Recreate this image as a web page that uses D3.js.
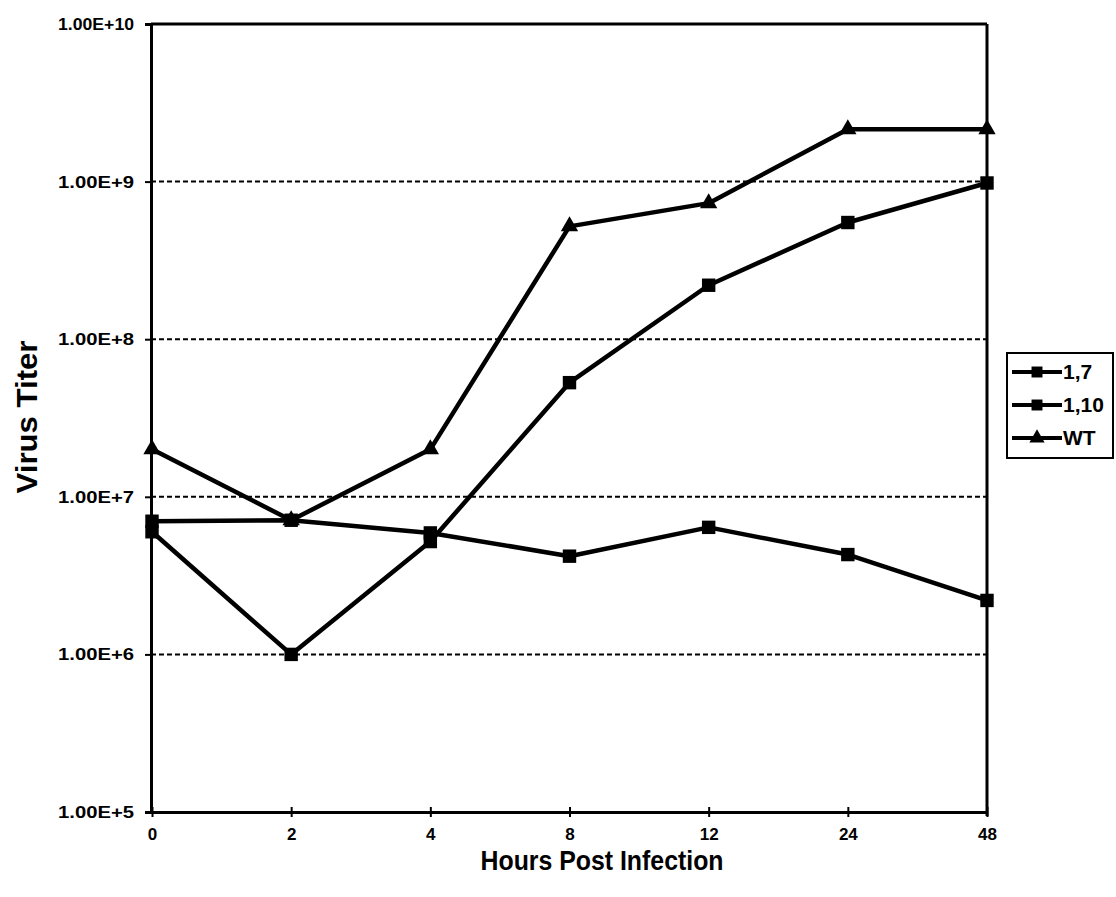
<!DOCTYPE html>
<html>
<head>
<meta charset="utf-8">
<script src="https://cdn.jsdelivr.net/npm/d3@7"></script>
<style>
  body { margin: 0; background: #fff; }
  svg text { font-family: "Liberation Sans", Arial, sans-serif; font-weight: bold; fill: #000; }
</style>
</head>
<body>
<script>
// data
var hours = ["0", "2", "4", "8", "12", "24", "48"];
var s17  = [6.0e6, 1.0e6, 5.2e6, 5.3e7, 2.2e8, 5.5e8, 9.8e8];
var s110 = [7.0e6, 7.1e6, 5.9e6, 4.2e6, 6.4e6, 4.3e6, 2.2e6];
var sWT  = [2.0e7, 7.1e6, 2.0e7, 5.2e8, 7.3e8, 2.15e9, 2.15e9];
var seriesNames = ["1,7", "1,10", "WT"];
var yTicks = [1e5, 1e6, 1e7, 1e8, 1e9, 1e10];

var W = 1116, H = 897;
var plotL = 151, plotR = 987, plotT = 24, plotB = 812;

var svg = d3.select("body").append("svg")
    .attr("width", W)
    .attr("height", H);

var x = d3.scalePoint().domain(hours).range([plotL + 1, plotR]);
var y = d3.scaleLog().domain([1e5, 1e10]).range([plotB, plotT]);

// dotted gridlines
svg.append("g").selectAll("line")
   .data(yTicks.slice(1, -1))
   .enter().append("line")
   .attr("x1", plotL).attr("x2", plotR)
   .attr("y1", function(d){ return y(d); })
   .attr("y2", function(d){ return y(d); })
   .attr("stroke", "#000")
   .attr("stroke-width", 2)
   .attr("stroke-dasharray", "5,3");

// frame top / right
svg.append("line").attr("x1", plotL).attr("x2", plotR).attr("y1", plotT).attr("y2", plotT)
   .attr("stroke", "#000").attr("stroke-width", 3);
svg.append("line").attr("x1", plotR).attr("x2", plotR).attr("y1", plotT).attr("y2", plotB + 4)
   .attr("stroke", "#000").attr("stroke-width", 3);

// y axis
var yAxis = svg.append("g")
    .attr("transform", "translate(" + plotL + ",0)")
    .call(d3.axisLeft(y).tickValues(yTicks)
        .tickFormat(function(d){ return d.toExponential(2).toUpperCase(); })
        .tickSize(6).tickPadding(11));
yAxis.attr("font-size", 17);
yAxis.select(".domain").attr("stroke-width", 3);
yAxis.selectAll(".tick line").attr("stroke-width", 2);
yAxis.selectAll(".tick text")
     .attr("textLength", 76).attr("lengthAdjust", "spacingAndGlyphs");

// x axis
var xAxis = svg.append("g")
    .attr("transform", "translate(0," + plotB + ")")
    .call(d3.axisBottom(x).tickSize(5).tickPadding(11).tickSizeOuter(0));
xAxis.attr("font-size", 17);
xAxis.select(".domain").attr("stroke-width", 3);
xAxis.selectAll(".tick line").attr("y1", -5).attr("stroke-width", 2);

// axis titles
svg.append("text")
   .attr("x", 602).attr("y", 870)
   .attr("text-anchor", "middle")
   .attr("textLength", 243).attr("lengthAdjust", "spacingAndGlyphs")
   .style("font-size", "28px")
   .text("Hours Post Infection");

svg.append("text")
   .attr("transform", "translate(37,417) rotate(-90)")
   .attr("text-anchor", "middle")
   .attr("textLength", 153).attr("lengthAdjust", "spacingAndGlyphs")
   .style("font-size", "30px")
   .text("Virus Titer");

// series
var series = [
  { name: seriesNames[0], values: s17, shape: "square" },
  { name: seriesNames[1], values: s110, shape: "square" },
  { name: seriesNames[2], values: sWT, shape: "triangle" }
];

var line = d3.line()
    .x(function(d, i){ return x(hours[i]); })
    .y(function(d){ return y(d); });

function symbolFor(shape, size) {
  return d3.symbol().type(shape == "square" ? d3.symbolSquare : d3.symbolTriangle).size(size)();
}

series.forEach(function(s){
  svg.append("path")
     .datum(s.values)
     .attr("d", line)
     .attr("fill", "none")
     .attr("stroke", "#000")
     .attr("stroke-width", 4.5)
     .attr("stroke-linejoin", "round");

  svg.selectAll(null)
     .data(s.values)
     .enter().append("path")
     .attr("d", symbolFor(s.shape, s.shape == "square" ? 180 : 130))
     .attr("transform", function(d, i){ return "translate(" + x(hours[i]) + "," + y(d) + ")"; })
     .attr("fill", "#000");
});

// legend
var lg = svg.append("g").attr("transform", "translate(1007,353)");
lg.append("rect")
  .attr("width", 106).attr("height", 105)
  .attr("fill", "#fff").attr("stroke", "#000").attr("stroke-width", 2);

var items = lg.selectAll("g.item")
  .data(series)
  .enter().append("g")
  .attr("class", "item")
  .attr("transform", function(d, i){ return "translate(0," + (19 + i * 33) + ")"; });

items.append("line")
  .attr("x1", 5).attr("x2", 55)
  .attr("stroke", "#000").attr("stroke-width", 4);
items.append("path")
  .attr("d", function(d){ return symbolFor(d.shape, d.shape == "square" ? 120 : 100); })
  .attr("transform", "translate(30,0)")
  .attr("fill", "#000");
items.append("text")
  .attr("x", 56).attr("y", 7)
  .style("font-size", "21px")
  .text(function(d){ return d.name; });
</script>
</body>
</html>
